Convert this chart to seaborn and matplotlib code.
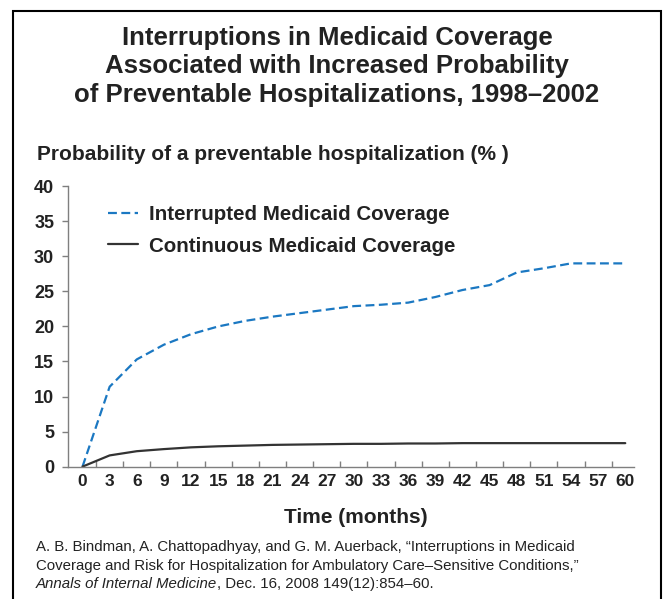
import matplotlib
matplotlib.use("Agg")
import matplotlib.pyplot as plt
import seaborn as sns
import pandas as pd
import numpy as np
from matplotlib.patches import Rectangle

months = [0, 3, 6, 9, 12, 15, 18, 21, 24, 27, 30, 33, 36, 39, 42, 45, 48, 51, 54, 57, 60]
interrupted = [0, 11.4, 15.3, 17.4, 18.9, 20.0, 20.8, 21.4, 21.9, 22.4, 22.9, 23.1, 23.4, 24.2, 25.2, 25.9, 27.7, 28.3, 29.0, 29.0, 29.0]
continuous = [0, 1.6, 2.2, 2.5, 2.75, 2.9, 3.0, 3.1, 3.15, 3.2, 3.25, 3.25, 3.3, 3.3, 3.35, 3.35, 3.35, 3.35, 3.35, 3.35, 3.35]
series_names = ["Interrupted Medicaid Coverage", "Continuous Medicaid Coverage"]
y_ticks = [0, 5, 10, 15, 20, 25, 30, 35, 40]

title = ("Interruptions in Medicaid Coverage\n"
         "Associated with Increased Probability\n"
         "of Preventable Hospitalizations, 1998\u20132002")
ylabel = "Probability of a preventable hospitalization (% )"
xlabel = "Time (months)"

df = pd.DataFrame({
    "month": months * 2,
    "value": interrupted + continuous,
    "series": [series_names[0]] * len(months) + [series_names[1]] * len(months),
})

sns.set_style("ticks")
plt.rcParams["font.family"] = ["Liberation Sans", "DejaVu Sans"]
text_color = "#222222"
W, H = 667, 599

fig = plt.figure(figsize=(6.67, 5.99), dpi=100)
ax = fig.add_axes([0.102, 0.221, 0.849, 0.468])

sns.lineplot(data=df, x="month", y="value", hue="series", style="series",
             palette={series_names[0]: "#1b78c2", series_names[1]: "#333333"},
             dashes={series_names[0]: (4, 2), series_names[1]: ""},
             linewidth=1.6, ax=ax)

ax.set_xlim(-1.6, 61.0)
ax.set_ylim(0, 40)
ax.set_xticks(months)
ax.set_xticklabels([str(m) for m in months])
ax.set_xticks(np.arange(1.5, 61, 3), minor=True)
ax.set_yticks(y_ticks)
ax.set_yticklabels([str(v) for v in y_ticks])
ax.tick_params(axis="x", which="major", length=0, pad=5, labelsize=12.5, labelcolor=text_color)
ax.tick_params(axis="x", which="minor", length=4, direction="in", color="#7f7f7f", width=1)
ax.tick_params(axis="y", length=4, direction="out", color="#7f7f7f", width=1, pad=6, labelsize=13, labelcolor=text_color)
for lab in ax.get_xticklabels() + ax.get_yticklabels():
    lab.set_fontweight("bold")
for s in ["top", "right"]:
    ax.spines[s].set_visible(False)
for s in ["left", "bottom"]:
    ax.spines[s].set_color("#7f7f7f")
    ax.spines[s].set_linewidth(1)
ax.set_xlabel("")
ax.set_ylabel("")

leg = ax.legend(loc="upper left", bbox_to_anchor=(0.0707, 0.932), frameon=False,
                handlelength=1.46, handletextpad=0.55, labelspacing=0.6,
                prop={"weight": "bold", "size": 14.8}, borderaxespad=0, borderpad=0)
for t in leg.get_texts():
    t.set_color(text_color)

fig.text(337 / W, 1 - 102 / H, title, ha="center", va="baseline", fontsize=18.5,
         fontweight="bold", color=text_color, linespacing=1.25)
fig.text(37 / W, 1 - 160 / H, ylabel, ha="left", va="baseline", fontsize=15,
         fontweight="bold", color=text_color)
fig.text(356 / W, 1 - 523 / H, xlabel, ha="center", va="baseline", fontsize=15,
         fontweight="bold", color=text_color)

cite_size = 10.8
fig.text(36 / W, 1 - 551 / H,
         "A. B. Bindman, A. Chattopadhyay, and G. M. Auerback, \u201cInterruptions in Medicaid",
         ha="left", va="baseline", fontsize=cite_size, color=text_color)
fig.text(36 / W, 1 - 570 / H,
         "Coverage and Risk for Hospitalization for Ambulatory Care\u2013Sensitive Conditions,\u201d",
         ha="left", va="baseline", fontsize=cite_size, color=text_color)
t1 = fig.text(36 / W, 1 - 588 / H, "Annals of Internal Medicine", ha="left", va="baseline",
              fontsize=cite_size, style="italic", color=text_color)
fig.canvas.draw()
bb = t1.get_window_extent()
fig.text(bb.x1 / fig.bbox.width, 1 - 588 / H, ", Dec. 16, 2008 149(12):854\u201360.",
         ha="left", va="baseline", fontsize=cite_size, color=text_color)

fig.patches.append(Rectangle((13 / W, -0.01), (661 - 13) / W, 1 - 11 / H + 0.01,
                             transform=fig.transFigure, fill=False, edgecolor="black",
                             linewidth=1.5))

fig.savefig("out.png", dpi=100)
